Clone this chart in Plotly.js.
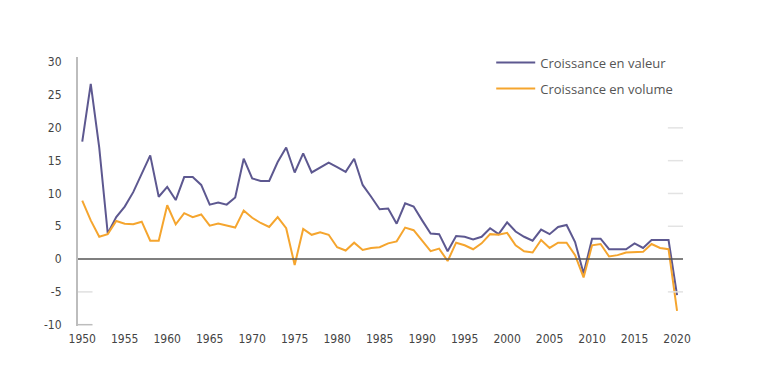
<!DOCTYPE html>
<html>
<head>
<meta charset="utf-8">
<script src="https://cdn.plot.ly/plotly-3.0.1.min.js"></script>
<style>html,body{margin:0;padding:0;background:#fff;}#chart{width:757px;height:378px;}</style>
</head>
<body>
<div id="chart"></div>
<script>
const years = [];
for (let y = 1950; y <= 2020; y++) years.push(y);

const valeur = [17.9, 26.7, 17.0, 3.9, 6.4, 8.0, 10.2, 13.1, 15.8, 9.5,
  11.0, 9.0, 12.5, 12.5, 11.3, 8.3, 8.6, 8.3, 9.4, 15.3,
  12.3, 11.9, 11.9, 14.8, 17.0, 13.2, 16.1, 13.2, 14.0, 14.7,
  14.0, 13.3, 15.3, 11.3, 9.5, 7.6, 7.7, 5.4, 8.5, 8.0,
  5.9, 3.9, 3.8, 1.2, 3.5, 3.4, 3.0, 3.4, 4.7, 3.8,
  5.6, 4.2, 3.4, 2.8, 4.5, 3.8, 4.9, 5.2, 2.6, -2.2,
  3.1, 3.1, 1.5, 1.5, 1.5, 2.4, 1.7, 2.9, 2.9, 2.9,
  -5.5];

const volume = [8.9, 5.9, 3.4, 3.8, 5.8, 5.4, 5.3, 5.7, 2.8, 2.8,
  8.2, 5.3, 7.0, 6.4, 6.8, 5.1, 5.4, 5.1, 4.8, 7.4,
  6.3, 5.5, 4.9, 6.4, 4.7, -0.9, 4.6, 3.7, 4.1, 3.7,
  1.8, 1.3, 2.5, 1.4, 1.7, 1.8, 2.4, 2.7, 4.8, 4.4,
  2.8, 1.2, 1.6, -0.3, 2.5, 2.1, 1.5, 2.4, 3.8, 3.7,
  4.0, 2.1, 1.2, 1.0, 2.9, 1.7, 2.5, 2.5, 0.6, -2.8,
  2.1, 2.3, 0.4, 0.6, 1.0, 1.1, 1.1, 2.3, 1.7, 1.5,
  -7.9];

const seriesNames = ["Croissance en valeur", "Croissance en volume"];
const yTicks = [-10, -5, 0, 5, 10, 15, 20, 25, 30];
const xTicks = [1950, 1955, 1960, 1965, 1970, 1975, 1980, 1985, 1990, 1995, 2000, 2005, 2010, 2015, 2020];
const leftMarks = [-10, -5];
const rightMarks = [-5, 5, 10, 15, 20];

const shapes = [];
leftMarks.forEach(v => shapes.push({type:'line', xref:'paper', yref:'y', x0:0, x1:0.024, y0:v, y1:v,
  line:{color: v === -10 ? '#bdbdbd' : '#e0e0e0', width:1.5}}));
rightMarks.forEach(v => shapes.push({type:'line', xref:'paper', yref:'y', x0:0.975, x1:1, y0:v, y1:v,
  line:{color:'#e3e3e3', width:1.5}}));
shapes.push({type:'line', xref:'paper', yref:'y', x0:0, x1:1, y0:0, y1:0, line:{color:'#555555', width:1.5}});

const traces = [
  {x: years, y: valeur, name: seriesNames[0], type:'scatter', mode:'lines', legendgroup:'a',
   line:{color:'#5d5890', width:2}},
  {x: years, y: volume, name: seriesNames[1], type:'scatter', mode:'lines', legendgroup:'b',
   line:{color:'#f5a52e', width:2}}
];

const layout = {
  width: 757, height: 378,
  margin: {l:78, r:74, t:57, b:52},
  paper_bgcolor:'#ffffff', plot_bgcolor:'#ffffff',
  showlegend: true,
  legend: {x:0.683, xanchor:'left', y:1.035, yanchor:'top', tracegroupgap:6, itemwidth:39,
    font:{family:'"Open Sans", Lato, sans-serif', size:13, color:'#555555'}, bgcolor:'rgba(0,0,0,0)'},
  xaxis: {range:[1949.5, 2020.7], tickvals:xTicks, ticktext:xTicks.map(String), showgrid:false, zeroline:false,
    showline:false, ticks:'', ticklabelstandoff:4,
    tickfont:{family:'"Liberation Sans Narrow", "DejaVu Sans Condensed", sans-serif', size:12, color:'#444444'}},
  yaxis: {range:[-10.2, 30.8], tickvals:yTicks, ticktext:yTicks.map(String), showgrid:false, zeroline:false,
    showline:true, linecolor:'#bdbdbd', linewidth:2, ticks:'', ticklabelstandoff:12,
    tickfont:{family:'"Liberation Sans Narrow", "DejaVu Sans Condensed", sans-serif', size:12, color:'#444444'}},
  shapes: shapes
};

Plotly.newPlot('chart', traces, layout, {displayModeBar:false, staticPlot:true});
</script>
</body>
</html>
